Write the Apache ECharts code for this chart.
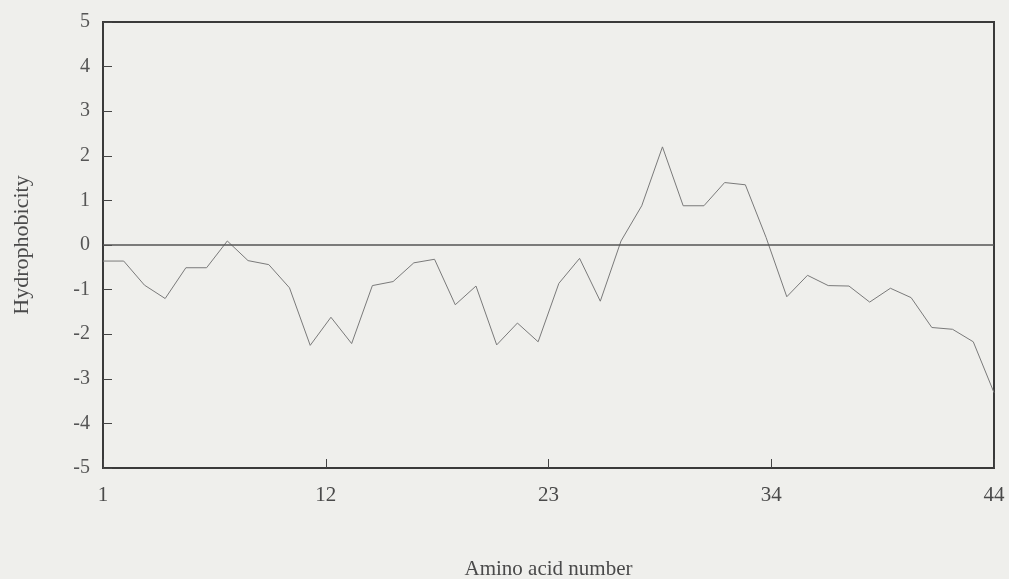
<!DOCTYPE html>
<html>
<head>
<meta charset="utf-8">
<script src="https://cdn.jsdelivr.net/npm/echarts@6/dist/echarts.min.js"></script>
<style>
html,body{margin:0;padding:0;background:#efefec;}
#chart{width:1009px;height:579px;}
</style>
</head>
<body>
<div id="chart"></div>
<script>
const residues = [1,2,3,4,5,6,7,8,9,10,11,12,13,14,15,16,17,18,19,20,21,22,23,24,25,26,27,28,29,30,31,32,33,34,35,36,37,38,39,40,41,42,43,44];
const hydrophobicity = [-0.36,-0.36,-0.9,-1.2,-0.51,-0.51,0.09,-0.35,-0.44,-0.96,-2.25,-1.62,-2.21,-0.91,-0.82,-0.4,-0.32,-1.34,-0.92,-2.24,-1.75,-2.17,-0.86,-0.3,-1.26,0.09,0.88,2.2,0.88,0.88,1.4,1.35,0.17,-1.16,-0.68,-0.91,-0.92,-1.28,-0.97,-1.18,-1.85,-1.89,-2.17,-3.31];
const xTickValues = [1, 11.75, 22.5, 33.25, 44];
const xTickLabels = ['1', '12', '23', '34', '44'];

const font = '"Liberation Serif", "DejaVu Serif", serif';
const chart = echarts.init(document.getElementById('chart'), null, {renderer: 'canvas'});
chart.setOption({
  backgroundColor: '#efefec',
  animation: false,
  grid: {left: 103, right: 15, top: 22, bottom: 111, containLabel: false, outerBoundsMode: 'none',
    show: true, borderColor: '#3a3a3a', borderWidth: 2, backgroundColor: 'transparent'},
  xAxis: {
    type: 'value', min: 1, max: 44,
    name: 'Amino acid number', nameLocation: 'middle', nameGap: 91,
    nameTextStyle: {color: '#4a4a4a', fontFamily: font, fontSize: 21},
    axisLine: {show: false, onZero: false},
    axisTick: {show: true, inside: true, length: 9, customValues: xTickValues, lineStyle: {color: '#444', width: 1}},
    axisLabel: {customValues: xTickValues, margin: 17, color: '#4a4a4a', fontFamily: font, fontSize: 21,
      formatter: function (v) { const i = xTickValues.findIndex(t => Math.abs(t - v) < 1e-6); return i >= 0 ? xTickLabels[i] : ''; }},
    splitLine: {show: false}
  },
  yAxis: {
    type: 'value', min: -5, max: 5, interval: 1,
    name: 'Hydrophobicity', nameLocation: 'middle', nameGap: 70,
    nameTextStyle: {color: '#4a4a4a', fontFamily: font, fontSize: 22},
    axisLine: {show: false, onZero: false},
    axisTick: {show: true, inside: true, length: 9, lineStyle: {color: '#444', width: 1}},
    axisLabel: {margin: 13, color: '#555', fontFamily: font, fontSize: 20},
    splitLine: {show: false}
  },
  series: [{
    type: 'line',
    data: residues.map((r, i) => [r, hydrophobicity[i]]),
    showSymbol: false,
    lineStyle: {color: '#7a7a7a', width: 1},
    markLine: {
      silent: true, symbol: 'none', label: {show: false},
      lineStyle: {color: '#555', width: 1.5, type: 'solid'},
      data: [{yAxis: 0}]
    }
  }]
});
</script>
</body>
</html>
